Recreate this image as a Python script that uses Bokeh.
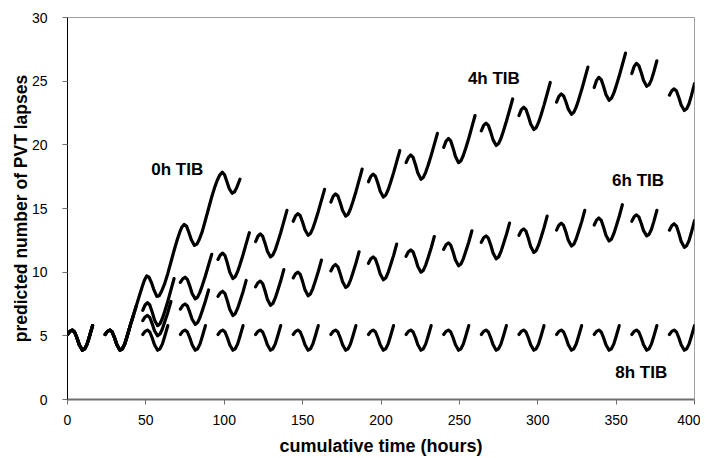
from bokeh.plotting import figure
from bokeh.models import Range1d, FixedTicker, Label
from bokeh.embed import file_html
from bokeh.resources import INLINE

# ---------------- data (hours since start / predicted PVT lapses) ----------------
# sample offsets (hours after wake-up) used for each waking segment
OFF_16 = [0, 1.5, 3, 4.5, 6, 7.5, 9.5, 11, 12.5, 14, 16]
OFF_18 = OFF_16 + [18]
OFF_20 = OFF_16 + [18, 20]

day_starts = [0, 24, 48, 72, 96, 120, 144, 168, 192, 216, 240, 264, 288, 312, 336, 360, 384]

tib8_days = [
    [5.1, 5.35, 5.45, 5.3, 4.85, 4.3, 3.87, 3.98, 4.35, 4.95, 5.8],
    [5.1, 5.35, 5.45, 5.3, 4.85, 4.3, 3.87, 3.98, 4.35, 4.95, 5.8],
    [5.1, 5.35, 5.45, 5.3, 4.85, 4.3, 3.87, 3.98, 4.35, 4.95, 5.8],
    [5.1, 5.35, 5.45, 5.3, 4.85, 4.3, 3.87, 3.98, 4.35, 4.95, 5.8],
    [5.1, 5.35, 5.45, 5.3, 4.85, 4.3, 3.87, 3.98, 4.35, 4.95, 5.8],
    [5.1, 5.35, 5.45, 5.3, 4.85, 4.3, 3.87, 3.98, 4.35, 4.95, 5.8],
    [5.1, 5.35, 5.45, 5.3, 4.85, 4.3, 3.87, 3.98, 4.35, 4.95, 5.8],
    [5.1, 5.35, 5.45, 5.3, 4.85, 4.3, 3.87, 3.98, 4.35, 4.95, 5.8],
    [5.1, 5.35, 5.45, 5.3, 4.85, 4.3, 3.87, 3.98, 4.35, 4.95, 5.8],
    [5.1, 5.35, 5.45, 5.3, 4.85, 4.3, 3.87, 3.98, 4.35, 4.95, 5.8],
    [5.1, 5.35, 5.45, 5.3, 4.85, 4.3, 3.87, 3.98, 4.35, 4.95, 5.8],
    [5.1, 5.35, 5.45, 5.3, 4.85, 4.3, 3.87, 3.98, 4.35, 4.95, 5.8],
    [5.1, 5.35, 5.45, 5.3, 4.85, 4.3, 3.87, 3.98, 4.35, 4.95, 5.8],
    [5.1, 5.35, 5.45, 5.3, 4.85, 4.3, 3.87, 3.98, 4.35, 4.95, 5.8],
    [5.1, 5.35, 5.45, 5.3, 4.85, 4.3, 3.87, 3.98, 4.35, 4.95, 5.8],
    [5.1, 5.35, 5.45, 5.3, 4.85, 4.3, 3.87, 3.98, 4.35, 4.95, 5.8],
    [5.1, 5.35, 5.45, 5.3, 4.85, 4.3, 3.87, 3.98, 4.35, 4.95, 5.8],
]

tib6_days = [
    [5.1, 5.35, 5.45, 5.3, 4.85, 4.3, 3.87, 3.98, 4.35, 4.95, 5.8],
    [5.1, 5.35, 5.45, 5.3, 4.85, 4.3, 3.87, 3.98, 4.35, 4.95, 5.8, 6.6],
    [6.2, 6.48, 6.6, 6.44, 5.96, 5.4, 5.0, 5.14, 5.54, 6.08, 6.84, 7.7],
    [7.1, 7.38, 7.5, 7.34, 6.86, 6.3, 5.9, 6.04, 6.44, 6.98, 7.74, 8.6],
    [8.1, 8.38, 8.5, 8.31, 7.74, 7.08, 6.6, 6.74, 7.15, 7.7, 8.47, 9.35],
    [8.85, 9.17, 9.3, 9.11, 8.54, 7.88, 7.4, 7.54, 7.96, 8.52, 9.3, 10.2],
    [9.55, 9.87, 10.0, 9.82, 9.26, 8.61, 8.15, 8.29, 8.71, 9.27, 10.05, 10.95],
    [10.1, 10.45, 10.6, 10.42, 9.88, 9.25, 8.8, 8.94, 9.36, 9.92, 10.7, 11.6],
    [10.7, 11.05, 11.2, 11.02, 10.48, 9.85, 9.4, 9.54, 9.96, 10.52, 11.3, 12.2],
    [11.25, 11.6, 11.75, 11.58, 11.05, 10.44, 10.0, 10.14, 10.56, 11.12, 11.9, 12.8],
    [11.8, 12.15, 12.3, 12.12, 11.58, 10.95, 10.5, 10.64, 11.05, 11.6, 12.37, 13.25],
    [12.35, 12.7, 12.85, 12.67, 12.13, 11.5, 11.05, 11.19, 11.61, 12.17, 12.95, 13.85],
    [12.9, 13.25, 13.4, 13.22, 12.66, 12.01, 11.55, 11.69, 12.12, 12.69, 13.49, 14.4],
    [13.3, 13.69, 13.85, 13.67, 13.13, 12.5, 12.05, 12.19, 12.61, 13.17, 13.95, 14.85],
    [13.7, 14.09, 14.25, 14.07, 13.53, 12.9, 12.45, 12.59, 13.02, 13.59, 14.39, 15.3],
    [14.0, 14.35, 14.5, 14.34, 13.84, 13.26, 12.85, 12.97, 13.35, 13.95, 14.85],
    [13.3, 13.65, 13.8, 13.62, 13.06, 12.41, 11.95, 12.08, 12.48, 13.11, 14.05],
]

tib4_days = [
    [5.1, 5.35, 5.45, 5.3, 4.85, 4.3, 3.87, 3.98, 4.35, 4.95, 5.8],
    [5.1, 5.35, 5.45, 5.3, 4.85, 4.3, 3.87, 3.98, 4.35, 4.95, 5.8, 6.6, 7.4],
    [7.0, 7.42, 7.6, 7.42, 6.88, 6.25, 5.8, 5.95, 6.36, 6.91, 7.72, 8.61, 9.5],
    [9.2, 9.48, 9.6, 9.43, 8.92, 8.33, 7.9, 8.04, 8.43, 8.95, 9.72, 10.56, 11.4],
    [11.0, 11.35, 11.5, 11.3, 10.7, 10.0, 9.5, 9.64, 10.04, 10.58, 11.37, 12.24, 13.1],
    [12.4, 12.82, 13.0, 12.82, 12.28, 11.65, 11.2, 11.35, 11.75, 12.3, 13.1, 13.97, 14.85],
    [14.0, 14.42, 14.6, 14.43, 13.92, 13.33, 12.9, 13.04, 13.44, 13.98, 14.77, 15.64, 16.5],
    [15.5, 15.96, 16.15, 15.98, 15.45, 14.84, 14.4, 14.55, 14.96, 15.51, 16.32, 17.21, 18.1],
    [17.1, 17.52, 17.7, 17.52, 16.98, 16.35, 15.9, 16.05, 16.45, 17.0, 17.8, 18.67, 19.55],
    [18.6, 19.02, 19.2, 19.01, 18.44, 17.78, 17.3, 17.44, 17.84, 18.38, 19.17, 20.04, 20.9],
    [19.8, 20.29, 20.5, 20.31, 19.74, 19.08, 18.6, 18.75, 19.16, 19.71, 20.52, 21.41, 22.3],
    [21.1, 21.52, 21.7, 21.53, 21.0, 20.39, 19.95, 20.1, 20.5, 21.05, 21.85, 22.72, 23.6],
    [22.3, 22.76, 22.95, 22.78, 22.25, 21.64, 21.2, 21.35, 21.76, 22.31, 23.12, 24.01, 24.9],
    [23.35, 23.81, 24.0, 23.84, 23.36, 22.8, 22.4, 22.55, 22.96, 23.51, 24.32, 25.21, 26.1],
    [24.5, 25.06, 25.3, 25.12, 24.58, 23.95, 23.5, 23.65, 24.06, 24.61, 25.42, 26.31, 27.2],
    [25.6, 26.16, 26.4, 26.22, 25.68, 25.05, 24.6, 24.72, 25.1, 25.7, 26.6],
    [23.9, 24.25, 24.4, 24.23, 23.72, 23.13, 22.7, 22.83, 23.23, 23.86, 24.8],
]

# total sleep deprivation: baseline day, then continuous wakefulness
tib0_day1 = [5.1, 5.35, 5.45, 5.3, 4.85, 4.3, 3.87, 3.98, 4.35, 4.95, 5.8]
tib0_times = [24, 25.5, 27, 28.5, 30, 31.5, 33.5, 35, 36.5, 38,
              40, 42, 44, 46, 47.5, 49, 50.5, 52, 53.5, 55,
              57, 58.5, 60, 62, 64, 66, 68, 70, 71.5, 73,
              74.5, 76, 77.5, 79, 81, 82.5, 84, 86, 88, 90,
              92, 94, 95.5, 97, 98.7, 100.2, 101.7, 103.2, 105, 106.5,
              108, 110]
tib0_values = [5.1, 5.35, 5.45, 5.3, 4.85, 4.3, 3.87, 3.98, 4.35, 4.95,
               5.8, 6.6, 7.4, 8.2, 8.8, 9.35, 9.7, 9.6, 9.2, 8.65,
               8.1, 8.15, 8.5, 9.1, 9.9, 10.8, 11.7, 12.55, 13.1, 13.55,
               13.75, 13.6, 13.1, 12.55, 12.1, 12.2, 12.55, 13.2, 14.1, 15.0,
               15.9, 16.7, 17.2, 17.6, 17.85, 17.65, 17.1, 16.55, 16.2, 16.3,
               16.65, 17.3]

x_ticks = [0, 50, 100, 150, 200, 250, 300, 350, 400]
y_ticks = [0, 5, 10, 15, 20, 25, 30]

curve_labels = ["0h TIB", "4h TIB", "6h TIB", "8h TIB"]
label_x = [70, 272, 364, 366]
label_y = [18.1, 25.2, 17.2, 2.15]

x_title = "cumulative time (hours)"
y_title = "predicted number of PVT lapses"

# ---------------- figure ----------------
FONT = "Liberation Sans"

p = figure(width=700, height=458, output_backend="svg", toolbar_location=None,
           x_range=Range1d(0, 400), y_range=Range1d(0, 30),
           min_border_left=67, min_border_right=6, min_border_top=17, min_border_bottom=59)
p.background_fill_color = "white"
p.border_fill_color = "white"
p.outline_line_color = "#a0a0a0"
p.outline_line_width = 1
p.xgrid.visible = False
p.ygrid.visible = False


def segments(days):
    xs, ys = [], []
    offs = {11: OFF_16, 12: OFF_18, 13: OFF_20}
    for start, vals in zip(day_starts, days):
        o = offs[len(vals)]
        xs.append([start + d for d in o])
        ys.append(vals)
    return xs, ys


line_kw = dict(line_color="black", line_width=3.2, line_join="round", line_cap="round")
for days in (tib8_days, tib6_days, tib4_days):
    xs, ys = segments(days)
    p.multi_line(xs, ys, **line_kw)

p.line([day_starts[0] + d for d in OFF_16], tib0_day1, **line_kw)
p.line(tib0_times, tib0_values, **line_kw)

for txt, lx, ly in zip(curve_labels, label_x, label_y):
    p.add_layout(Label(x=lx, y=ly, text=txt, text_align="center", text_baseline="middle",
                       text_font=FONT, text_font_style="bold", text_font_size="17px",
                       text_color="black"))

# axes
p.xaxis.ticker = FixedTicker(ticks=x_ticks)
p.yaxis.ticker = FixedTicker(ticks=y_ticks)
for ax in (p.xaxis, p.yaxis):
    ax.minor_tick_line_color = None
    ax.major_tick_in = 0
    ax.major_tick_out = 5
    ax.major_label_text_font = FONT
    ax.major_label_text_font_size = "14px"
    ax.major_label_text_color = "black"
    ax.axis_label_text_font = FONT
    ax.axis_label_text_font_style = "bold"
    ax.axis_label_text_color = "black"

p.xaxis.axis_label = x_title
p.yaxis.axis_label = y_title
p.xaxis.axis_label_text_font_size = "18px"
p.yaxis.axis_label_text_font_size = "17.5px"
p.xaxis.axis_line_color = "#707070"
p.xaxis.axis_line_width = 2
p.xaxis.major_tick_line_color = "#707070"
p.yaxis.axis_line_color = "black"
p.yaxis.axis_line_width = 1
p.yaxis.major_tick_line_color = "#707070"
p.xaxis.major_label_standoff = 10
p.yaxis.major_label_standoff = 15
p.xaxis.axis_label_standoff = 8
p.yaxis.axis_label_standoff = -2

open("out.html", "w").write(file_html(p, INLINE))
